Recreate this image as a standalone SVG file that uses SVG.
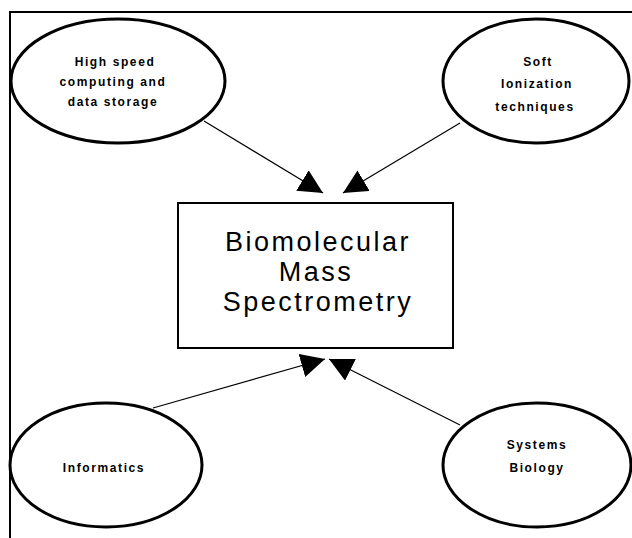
<svg xmlns="http://www.w3.org/2000/svg" width="632" height="538" viewBox="0 0 632 538">
<defs>
<marker id="ah" markerUnits="userSpaceOnUse" markerWidth="26" markerHeight="26" refX="24" refY="12" orient="auto">
<path d="M0,0 L24,12 L0,24 Z" fill="#000"/>
</marker>
<style>
.frame{stroke:#000;stroke-width:2;fill:none}
.ell{fill:#fff;stroke:#000;stroke-width:3}
.box{fill:#fff;stroke:#000;stroke-width:2}
.small{font-family:"Liberation Sans",Arial,sans-serif;font-size:12px;font-weight:bold;letter-spacing:1.6px;text-anchor:middle;fill:#000}
.big{font-family:"Liberation Sans",Arial,sans-serif;font-size:27px;letter-spacing:2.5px;text-anchor:middle;fill:#000}
.conn{stroke:#000;stroke-width:1.2;fill:none;marker-end:url(#ah)}
</style>
</defs>
<rect width="632" height="538" fill="#fff"/>
<path class="frame" d="M10,538 V12 H632"/>
<g id="connectors">
<line class="conn" x1="204" y1="121" x2="323" y2="193"/>
<line class="conn" x1="460" y1="123" x2="343" y2="193"/>
<line class="conn" x1="153" y1="408" x2="325" y2="359"/>
<line class="conn" x1="460" y1="425" x2="329" y2="359"/>
</g>
<g id="center">
<rect class="box" x="178" y="203" width="275" height="145"/>
<text class="big" x="318" y="251">Biomolecular</text>
<text class="big" x="316" y="281">Mass</text>
<text class="big" x="318" y="311">Spectrometry</text>
</g>
<g id="highspeed">
<ellipse class="ell" cx="118" cy="81" rx="107" ry="62"/>
<text class="small" x="115" y="66">High speed</text>
<text class="small" x="113" y="86">computing and</text>
<text class="small" x="113" y="106">data storage</text>
</g>
<g id="soft">
<ellipse class="ell" cx="536" cy="81" rx="93" ry="62"/>
<text class="small" x="538" y="66">Soft</text>
<text class="small" x="537" y="88">Ionization</text>
<text class="small" x="535" y="111">techniques</text>
</g>
<g id="informatics">
<ellipse class="ell" cx="106" cy="465" rx="96" ry="62"/>
<text class="small" x="104" y="472">Informatics</text>
</g>
<g id="systems">
<ellipse class="ell" cx="537" cy="465" rx="94" ry="62"/>
<text class="small" x="537" y="449">Systems</text>
<text class="small" x="537" y="472">Biology</text>
</g>
</svg>
